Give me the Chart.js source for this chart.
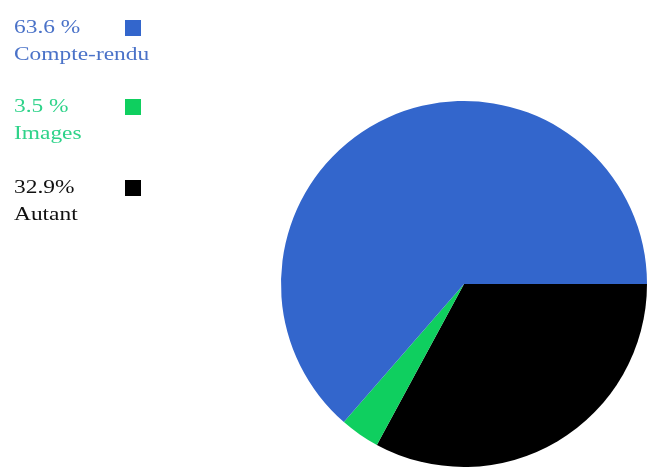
<!DOCTYPE html>
<html>
<head>
<meta charset="utf-8">
<script src="https://cdn.jsdelivr.net/npm/chart.js@4"></script>
<style>
  html, body { margin: 0; padding: 0; background: #ffffff; }
  #wrap { width: 647px; height: 468px; position: relative; }
</style>
</head>
<body>
<div id="wrap"><canvas id="c" width="647" height="468"></canvas></div>
<script>
// Share of each part, in percent
const categories = ['Compte-rendu', 'Images', 'Autant'];
const shares = [63.6, 3.5, 32.9];
const percentLabels = ['63.6 %', '3.5 %', '32.9%'];
const colors = ['#3366cc', '#0fcf5f', '#000000'];
const textColors = ['#4a72c8', '#2fd38a', '#111111'];

// Slices run clockwise from 3 o'clock: Autant, Images, then Compte-rendu
const order = [2, 1, 0];

// Legend on the left: percent and name in the slice colour, square swatch to the right
const sideLegend = {
  id: 'sideLegend',
  afterDraw(chart) {
    const ctx = chart.ctx;
    const rows = [28, 107, 188];
    categories.forEach((name, i) => {
      const y = rows[i];
      ctx.save();
      ctx.font = '18px "Liberation Serif", "DejaVu Serif", serif';
      ctx.textBaseline = 'middle';
      ctx.textAlign = 'left';
      ctx.fillStyle = textColors[i];
      ctx.translate(14, 0);
      ctx.scale(1.3, 1);
      ctx.fillText(percentLabels[i], 0, y);
      ctx.fillText(name, 0, y + 27);
      ctx.restore();
      ctx.fillStyle = colors[i];
      ctx.fillRect(125, y - 8, 16, 16);
    });
  }
};

new Chart(document.getElementById('c'), {
  type: 'pie',
  data: {
    labels: order.map(i => categories[i]),
    datasets: [{
      data: order.map(i => shares[i]),
      backgroundColor: order.map(i => colors[i]),
      borderWidth: 0
    }]
  },
  options: {
    responsive: false,
    animation: false,
    rotation: 90,
    layout: { padding: { left: 281, top: 101, right: 0, bottom: 1 } },
    plugins: {
      legend: { display: false },
      tooltip: { enabled: false }
    }
  },
  plugins: [sideLegend]
});
</script>
</body>
</html>
